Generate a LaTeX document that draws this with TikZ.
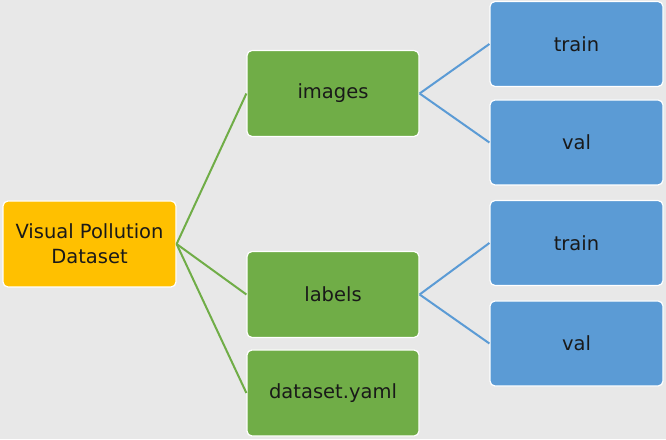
\documentclass[tikz,border=0pt]{standalone}
\usepackage{fontspec}
\setmainfont{DejaVu Sans}
\definecolor{bg}{HTML}{E8E8E8}
\definecolor{orangebox}{HTML}{FFC000}
\definecolor{greenbox}{HTML}{70AD47}
\definecolor{bluebox}{HTML}{5B9BD5}
\begin{document}
\begin{tikzpicture}[x=1pt,y=1pt,
  box/.style={draw=white,line width=1.2pt,rounded corners=5pt,align=center,
    font=\fontsize{19.5}{25}\selectfont,text=black!90,inner sep=0pt},
  rootbox/.style={box,fill=orangebox,minimum width=173pt,minimum height=86pt},
  greenstep/.style={box,fill=greenbox,minimum width=172pt,minimum height=86pt},
  bluestep/.style={box,fill=bluebox,minimum width=173pt,minimum height=85pt},
  gline/.style={draw=greenbox,line width=2pt},
  bline/.style={draw=bluebox,line width=2pt}]
\fill[bg] (0,0) rectangle (666,439);
\useasboundingbox (0,0) rectangle (666,439);
\node[rootbox] (root) at (89.5,195) {Visual Pollution\\Dataset};
\node[greenstep] (images) at (333,345.5) {images};
\node[greenstep] (labels) at (333,144.5) {labels};
\node[greenstep] (yaml) at (333,46) {dataset.yaml};
\node[bluestep] (t1) at (576.5,395) {train};
\node[bluestep] (v1) at (576.5,296.5) {val};
\node[bluestep] (t2) at (576.5,196) {train};
\node[bluestep] (v2) at (576.5,95.5) {val};
\draw[gline] (root.east) -- (images.west);
\draw[gline] (root.east) -- (labels.west);
\draw[gline] (root.east) -- (yaml.west);
\draw[bline] (images.east) -- (t1.west);
\draw[bline] (images.east) -- (v1.west);
\draw[bline] (labels.east) -- (t2.west);
\draw[bline] (labels.east) -- (v2.west);
\end{tikzpicture}
\end{document}
